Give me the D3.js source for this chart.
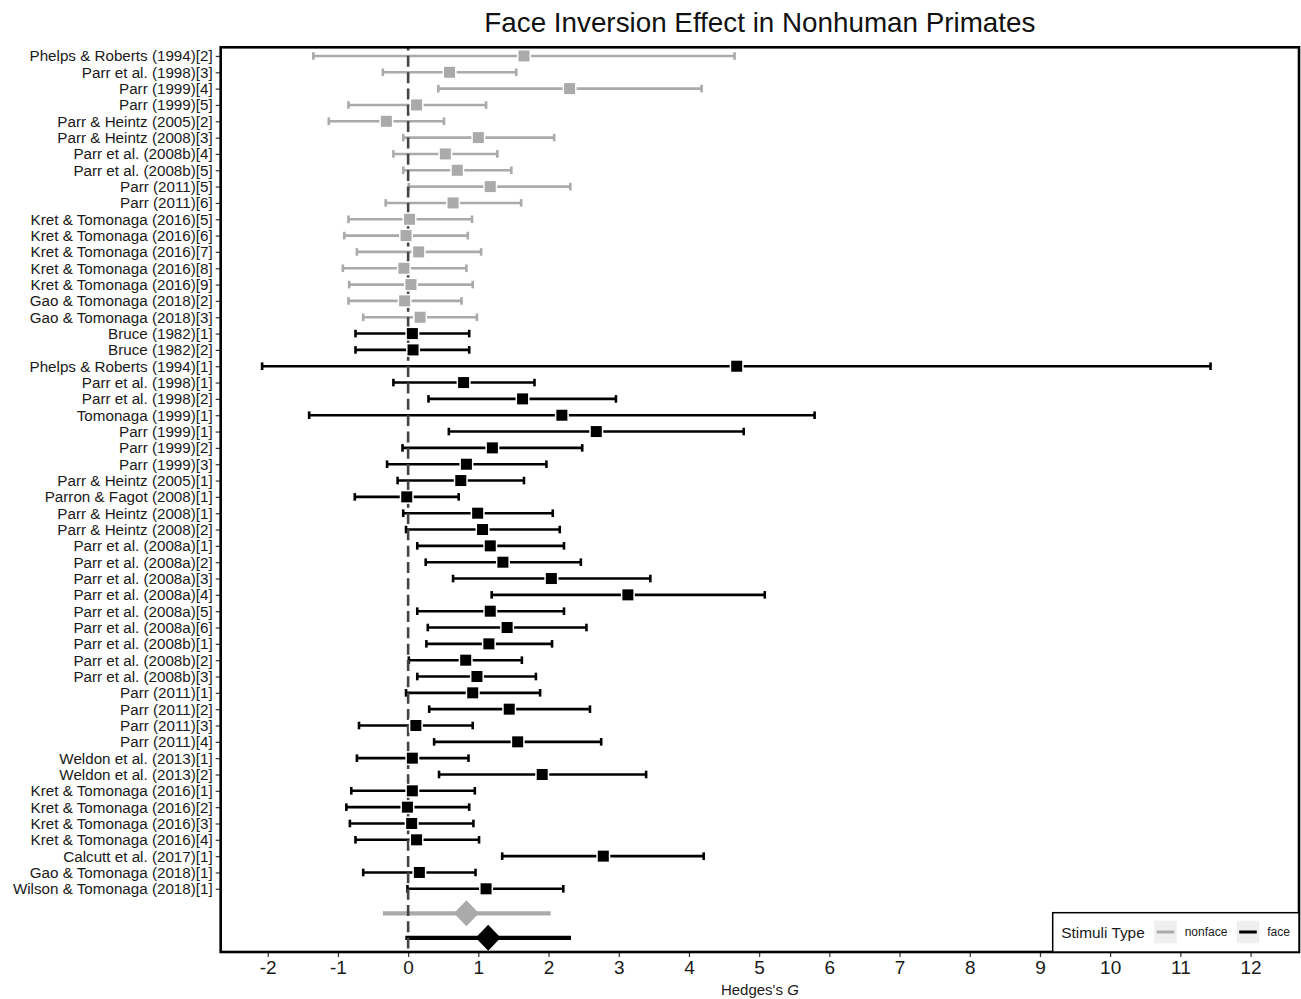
<!DOCTYPE html>
<html>
<head>
<meta charset="utf-8">
<script src="https://cdn.jsdelivr.net/npm/d3@7"></script>
<style>
  body { margin: 0; background: #fff; }
  text { font-family: "Liberation Sans", Arial, sans-serif; }
</style>
</head>
<body>
<div id="chart"></div>
<script>
// estudios, de arriba abajo
const studies = [
  "Phelps & Roberts (1994)[2]", "Parr et al. (1998)[3]", "Parr (1999)[4]", "Parr (1999)[5]",
  "Parr & Heintz (2005)[2]", "Parr & Heintz (2008)[3]", "Parr et al. (2008b)[4]", "Parr et al. (2008b)[5]",
  "Parr (2011)[5]", "Parr (2011)[6]", "Kret & Tomonaga (2016)[5]", "Kret & Tomonaga (2016)[6]",
  "Kret & Tomonaga (2016)[7]", "Kret & Tomonaga (2016)[8]", "Kret & Tomonaga (2016)[9]",
  "Gao & Tomonaga (2018)[2]", "Gao & Tomonaga (2018)[3]",
  "Bruce (1982)[1]", "Bruce (1982)[2]", "Phelps & Roberts (1994)[1]", "Parr et al. (1998)[1]",
  "Parr et al. (1998)[2]", "Tomonaga (1999)[1]", "Parr (1999)[1]", "Parr (1999)[2]", "Parr (1999)[3]",
  "Parr & Heintz (2005)[1]", "Parron & Fagot (2008)[1]", "Parr & Heintz (2008)[1]", "Parr & Heintz (2008)[2]",
  "Parr et al. (2008a)[1]", "Parr et al. (2008a)[2]", "Parr et al. (2008a)[3]", "Parr et al. (2008a)[4]",
  "Parr et al. (2008a)[5]", "Parr et al. (2008a)[6]", "Parr et al. (2008b)[1]", "Parr et al. (2008b)[2]",
  "Parr et al. (2008b)[3]", "Parr (2011)[1]", "Parr (2011)[2]", "Parr (2011)[3]", "Parr (2011)[4]",
  "Weldon et al. (2013)[1]", "Weldon et al. (2013)[2]", "Kret & Tomonaga (2016)[1]", "Kret & Tomonaga (2016)[2]",
  "Kret & Tomonaga (2016)[3]", "Kret & Tomonaga (2016)[4]", "Calcutt et al. (2017)[1]",
  "Gao & Tomonaga (2018)[1]", "Wilson & Tomonaga (2018)[1]"
];

const stimuli = [
  "nonface", "nonface", "nonface", "nonface", "nonface", "nonface", "nonface", "nonface", "nonface",
  "nonface", "nonface", "nonface", "nonface", "nonface", "nonface", "nonface", "nonface",
  "face", "face", "face", "face", "face", "face", "face", "face", "face", "face", "face", "face", "face",
  "face", "face", "face", "face", "face", "face", "face", "face", "face", "face", "face", "face", "face",
  "face", "face", "face", "face", "face", "face", "face", "face", "face"
];

const effect = [
  1.65, 0.59, 2.30, 0.12, -0.31, 1.00, 0.53, 0.70, 1.17, 0.64, 0.02, -0.03, 0.15, -0.06, 0.04, -0.05, 0.17,
  0.06, 0.07, 4.68, 0.79, 1.63, 2.19, 2.68, 1.20, 0.83, 0.75, -0.02, 0.99, 1.06,
  1.17, 1.35, 2.04, 3.13, 1.17, 1.41, 1.15, 0.82, 0.98, 0.92, 1.44, 0.11, 1.56,
  0.06, 1.91, 0.06, -0.01, 0.05, 0.12, 2.78, 0.16, 1.11
];

const lower = [
  -1.35, -0.36, 0.43, -0.85, -1.13, -0.07, -0.21, -0.07, 0.01, -0.32, -0.85, -0.91, -0.73, -0.93, -0.84, -0.85, -0.64,
  -0.75, -0.75, -2.08, -0.21, 0.29, -1.41, 0.58, -0.08, -0.30, -0.15, -0.76, -0.07, -0.03,
  0.13, 0.25, 0.64, 1.19, 0.13, 0.28, 0.26, 0.01, 0.13, -0.03, 0.30, -0.70, 0.37,
  -0.73, 0.44, -0.81, -0.88, -0.83, -0.75, 1.34, -0.64, -0.01
];

const upper = [
  4.65, 1.54, 4.18, 1.11, 0.51, 2.08, 1.27, 1.47, 2.31, 1.61, 0.91, 0.85, 1.04, 0.83, 0.92, 0.76, 0.98,
  0.87, 0.87, 11.43, 1.80, 2.96, 5.79, 4.78, 2.48, 1.97, 1.65, 0.72, 2.06, 2.16,
  2.22, 2.46, 3.45, 5.08, 2.22, 2.54, 2.05, 1.62, 1.82, 1.88, 2.59, 0.92, 2.75,
  0.86, 3.39, 0.95, 0.87, 0.93, 1.01, 4.21, 0.96, 2.21
];

// efectos resumidos por tipo de estimulo
const summaryType = ["nonface", "face"];
const summaryEffect = [0.83, 1.14];
const summaryLower = [-0.36, -0.04];
const summaryUpper = [2.03, 2.32];

const xTicks = [-2, -1, 0, 1, 2, 3, 4, 5, 6, 7, 8, 9, 10, 11, 12];

const color = { nonface: "#aaaaaa", face: "#000000" };

const width = 1301, height = 999;
const panel = { left: 220.7, right: 1299, top: 47.3, bottom: 952 };

const svg = d3.select("#chart").append("svg")
  .attr("width", width)
  .attr("height", height);

const x = d3.scaleLinear().domain([-2.67, 12.69]).range([panel.left, panel.right]);
const y = d3.scaleLinear().domain([-0.53, 54.87]).range([panel.top, panel.bottom]);

const rows = studies.map((s, i) => ({
  study: s, type: stimuli[i], g: effect[i], lo: lower[i], hi: upper[i], row: i
}));
const summary = summaryType.map((t, i) => ({
  type: t, g: summaryEffect[i], lo: summaryLower[i], hi: summaryUpper[i], row: i === 0 ? 52.5 : 54
}));

// titulo
svg.append("text")
  .attr("x", (panel.left + panel.right) / 2)
  .attr("y", 32)
  .attr("text-anchor", "middle")
  .attr("font-size", 27.8)
  .attr("fill", "#111")
  .text("Face Inversion Effect in Nonhuman Primates");

// barras de error
const bars = svg.append("g").selectAll("g")
  .data(rows)
  .join("g")
  .attr("stroke", d => color[d.type])
  .attr("stroke-width", 2.6);

bars.append("line")
  .attr("x1", d => x(d.lo)).attr("x2", d => x(d.hi))
  .attr("y1", d => y(d.row)).attr("y2", d => y(d.row));
bars.append("line")
  .attr("x1", d => x(d.lo)).attr("x2", d => x(d.lo))
  .attr("y1", d => y(d.row) - 3.8).attr("y2", d => y(d.row) + 3.8);
bars.append("line")
  .attr("x1", d => x(d.hi)).attr("x2", d => x(d.hi))
  .attr("y1", d => y(d.row) - 3.8).attr("y2", d => y(d.row) + 3.8);

// lineas del resumen
svg.append("g").selectAll("line")
  .data(summary)
  .join("line")
  .attr("x1", d => x(d.lo)).attr("x2", d => x(d.hi))
  .attr("y1", d => y(d.row)).attr("y2", d => y(d.row))
  .attr("stroke", d => color[d.type])
  .attr("stroke-width", 4.2);

// linea de referencia en 0
svg.append("line")
  .attr("x1", x(0)).attr("x2", x(0))
  .attr("y1", panel.top).attr("y2", panel.bottom)
  .attr("stroke", "#444")
  .attr("stroke-width", 2.6)
  .attr("stroke-dasharray", "11,5.33")
  .attr("stroke-dashoffset", -8.5);

// puntos
svg.append("g").selectAll("rect")
  .data(rows)
  .join("rect")
  .attr("x", d => x(d.g) - 5.5)
  .attr("y", d => y(d.row) - 5.5)
  .attr("width", 11)
  .attr("height", 11)
  .attr("fill", d => color[d.type])
  .attr("stroke", "#fff")
  .attr("stroke-width", 3)
  .attr("paint-order", "stroke");

// diamantes del resumen
svg.append("g").selectAll("path")
  .data(summary)
  .join("path")
  .attr("transform", d => `translate(${x(d.g)},${y(d.row)})`)
  .attr("d", "M0,-13L12.5,0L0,13L-12.5,0Z")
  .attr("fill", d => color[d.type]);

// ejes
const yAxis = svg.append("g")
  .attr("transform", `translate(${panel.left},0)`)
  .call(d3.axisLeft(y)
    .tickValues(d3.range(studies.length))
    .tickFormat(i => studies[i])
    .tickSize(5)
    .tickPadding(3));
yAxis.select(".domain").remove();
yAxis.selectAll(".tick line").attr("stroke", "#333").attr("stroke-width", 1.2);
yAxis.selectAll(".tick text")
  .attr("font-size", 15.2)
  .attr("font-family", "Liberation Sans, Arial, sans-serif")
  .attr("fill", "#1a1a1a");

const xAxis = svg.append("g")
  .attr("transform", `translate(0,${panel.bottom})`)
  .call(d3.axisBottom(x)
    .tickValues(xTicks)
    .tickSize(5)
    .tickPadding(4)
    .tickFormat(d => String(d)));
xAxis.select(".domain").remove();
xAxis.selectAll(".tick line").attr("stroke", "#333").attr("stroke-width", 1.2);
xAxis.selectAll(".tick text")
  .attr("font-size", 19)
  .attr("font-family", "Liberation Sans, Arial, sans-serif")
  .attr("fill", "#1a1a1a");

const xTitle = svg.append("text")
  .attr("x", (panel.left + panel.right) / 2)
  .attr("y", 995)
  .attr("text-anchor", "middle")
  .attr("font-size", 15)
  .attr("fill", "#1a1a1a");
xTitle.append("tspan").text("Hedges's ");
xTitle.append("tspan").attr("font-style", "italic").text("G");

// borde del panel
svg.append("rect")
  .attr("x", panel.left)
  .attr("y", panel.top)
  .attr("width", panel.right - panel.left)
  .attr("height", panel.bottom - panel.top)
  .attr("fill", "none")
  .attr("stroke", "#000")
  .attr("stroke-width", 2.6);

// leyenda
const legend = svg.append("g").attr("transform", "translate(1052.7,912.7)");
legend.append("rect")
  .attr("width", 246.3)
  .attr("height", 39.3)
  .attr("fill", "#fff")
  .attr("stroke", "#000")
  .attr("stroke-width", 1.5);
legend.append("text")
  .attr("x", 8.5)
  .attr("y", 25)
  .attr("font-size", 15.4)
  .attr("fill", "#1a1a1a")
  .text("Stimuli Type");

const keys = legend.selectAll("g.key")
  .data(summaryType)
  .join("g")
  .attr("class", "key")
  .attr("transform", (d, i) => `translate(${i === 0 ? 101.5 : 184},8)`);
keys.append("rect")
  .attr("width", 22.6)
  .attr("height", 22.6)
  .attr("fill", "#efefef");
keys.append("line")
  .attr("x1", 2.5).attr("x2", 20.1)
  .attr("y1", 11.3).attr("y2", 11.3)
  .attr("stroke", d => color[d])
  .attr("stroke-width", 3);
keys.append("text")
  .attr("x", 30.5)
  .attr("y", 15.5)
  .attr("font-size", 12)
  .attr("fill", "#1a1a1a")
  .text(d => d);
</script>
</body>
</html>
